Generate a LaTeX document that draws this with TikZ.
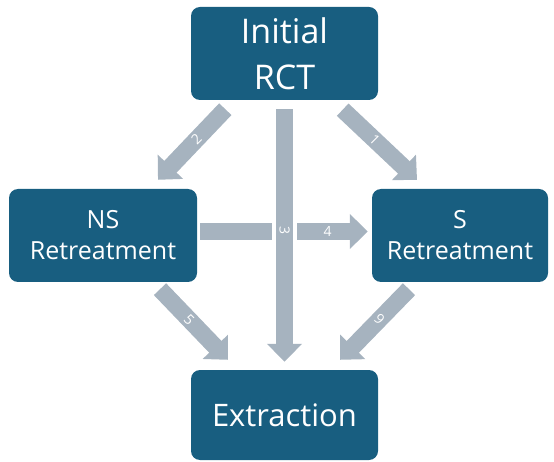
\documentclass[tikz,border=0pt]{standalone}
\usepackage{fontspec}
\setmainfont{Open Sans}
\usetikzlibrary{arrows.meta}
\definecolor{boxblue}{RGB}{24,94,128}
\definecolor{arrowgray}{RGB}{166,179,191}
\begin{document}
\begin{tikzpicture}[x=1pt, y=1pt,
  box/.style={rectangle, rounded corners=9pt, fill=boxblue, text=white, align=center, inner sep=0pt},
  fat/.style={draw=arrowgray, line width=17pt, -{Triangle[width=34pt, length=18pt]}},
  num/.style={text=white, font=\fontsize{14}{14}\selectfont, inner sep=0pt}]
\useasboundingbox (0,0) rectangle (554,-462);
\node[box, minimum width=187pt, minimum height=93pt, font=\fontsize{34}{46}\selectfont] (rct) at (284.5,-53.5) {Initial\\RCT};
\node[box, minimum width=188pt, minimum height=93pt, font=\fontsize{25}{31}\selectfont] (ns) at (103,-235.5) {NS\\Retreatment};
\node[box, minimum width=176pt, minimum height=93pt, font=\fontsize{25}{31}\selectfont] (s) at (460,-235.5) {S\\Retreatment};
\node[box, minimum width=187pt, minimum height=90pt, font=\fontsize{31}{37}\selectfont] (ext) at (284.5,-415) {Extraction};
\draw[fat] ([shift={(-35.5,-9.5)}]rct.south east) -- node[num, pos=0.43, rotate=-45]{1} ([shift={(-43,9)}]s.north);
\draw[fat] ([shift={(34.5,-9)}]rct.south west) -- node[num, pos=0.43, rotate=45]{2} ([shift={(55,9)}]ns.north);
\draw[fat] ([shift={(3,4)}]ns.east) -- node[num, pos=0.76]{4} ([shift={(-4,4)}]s.west);
% gap where 3 crosses 4
\draw[white, line width=25pt] ([yshift=-9pt]rct.south) -- ([yshift=25pt]ext.north);
\draw[fat] ([yshift=-9pt]rct.south) -- node[num, pos=0.48, rotate=-90]{3} ([yshift=8pt]ext.north);
\draw[fat] ([shift={(57,-7)}]ns.south) -- node[num, pos=0.43, rotate=-45]{5} ([shift={(37,10)}]ext.north west);
\draw[fat] ([shift={(-51,-7)}]s.south) -- node[num, pos=0.43, rotate=135]{6} ([shift={(-38,10)}]ext.north east);
\end{tikzpicture}
\end{document}
